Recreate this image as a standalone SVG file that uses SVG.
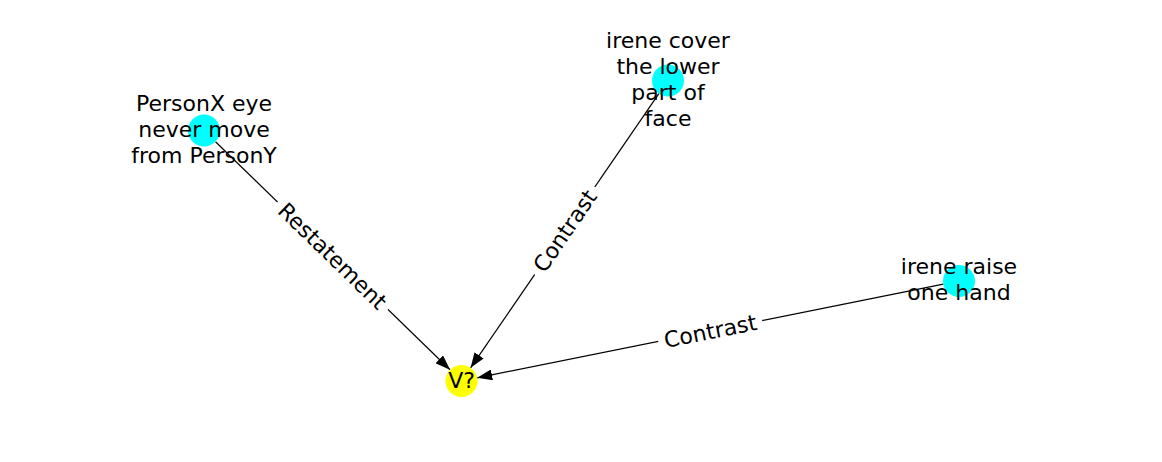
<svg xmlns="http://www.w3.org/2000/svg" width="1162" height="462" viewBox="0 0 1162 462">
<style>
  .edge { stroke: #000; stroke-width: 1.2; fill: none; }
  .lbl { font-family: "DejaVu Sans", sans-serif; font-size: 22px; fill: #000; text-anchor: middle; }
  .ebox { fill: #fff; stroke: none; }
  .nc { fill: #00ffff; }
  .ny { fill: #ffff00; }
</style>
<defs>
  <marker id="arr" viewBox="0 0 15 11" refX="15" refY="5.5" markerWidth="15" markerHeight="11" markerUnits="userSpaceOnUse" orient="auto">
    <path d="M0,0 L15,5.5 L0,11 z" fill="#000"/>
  </marker>
</defs>
<rect width="1162" height="462" fill="#fff"/>
<g id="edges">
  <line class="edge" x1="215.5" y1="141.7" x2="450.0" y2="369.8" marker-end="url(#arr)"/>
  <line class="edge" x1="658.9" y1="93.7" x2="470.6" y2="367.8" marker-end="url(#arr)"/>
  <line class="edge" x1="943.3" y1="284.2" x2="477.2" y2="377.8" marker-end="url(#arr)"/>
  <g transform="translate(332.75,255.75) rotate(44.2)">
    <rect class="ebox" x="-77" y="-15" width="154" height="30" rx="4"/>
    <text class="lbl" x="0" y="8">Restatement</text>
  </g>
  <g transform="translate(564.75,230.75) rotate(-55.5)">
    <rect class="ebox" x="-53" y="-15" width="106" height="30" rx="4"/>
    <text class="lbl" x="0" y="8">Contrast</text>
  </g>
  <g transform="translate(710.25,331) rotate(-11.37)">
    <rect class="ebox" x="-53" y="-15" width="106" height="30" rx="4"/>
    <text class="lbl" x="0" y="8">Contrast</text>
  </g>
</g>
<g id="node-personx">
  <circle class="nc" cx="204" cy="130.5" r="16"/>
  <text class="lbl" x="204"><tspan x="204" y="111">PersonX eye</tspan><tspan x="204" y="137">never move</tspan><tspan x="204" y="163">from PersonY</tspan></text>
</g>
<g id="node-irene-cover">
  <circle class="nc" cx="668" cy="80.5" r="16"/>
  <text class="lbl" x="668"><tspan x="668" y="48">irene cover</tspan><tspan x="668" y="74">the lower</tspan><tspan x="668" y="100">part of</tspan><tspan x="668" y="126">face</tspan></text>
</g>
<g id="node-irene-raise">
  <circle class="nc" cx="959" cy="281" r="16"/>
  <text class="lbl" x="959"><tspan x="959" y="274">irene raise</tspan><tspan x="959" y="300">one hand</tspan></text>
</g>
<g id="node-v">
  <circle class="ny" cx="461.5" cy="381" r="16"/>
  <text class="lbl" x="461.5" y="388">V?</text>
</g>
</svg>
